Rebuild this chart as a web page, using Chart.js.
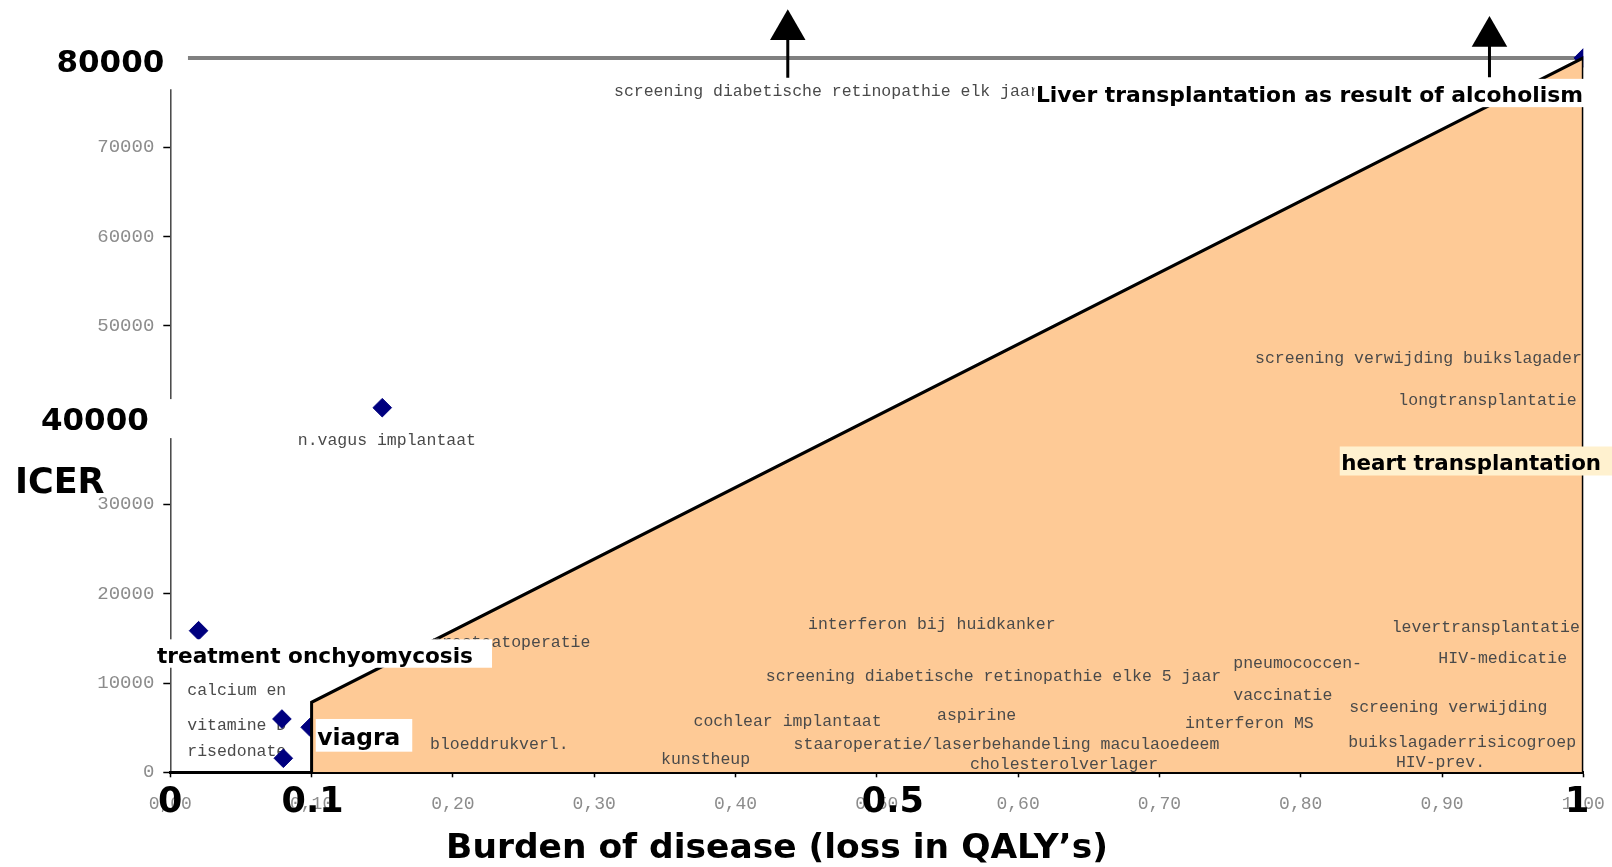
<!DOCTYPE html>
<html>
<head>
<meta charset="utf-8">
<title>ICER x Burden of disease</title>
<script src="https://cdn.jsdelivr.net/npm/chart.js@4.4.1/dist/chart.umd.min.js"></script>
<style>
    html, body { margin: 0; padding: 0; background: #fff; }
    #caixa { width: 1612px; height: 867px; }
</style>
</head>
<body>
<div id="caixa"><canvas id="graf"></canvas></div>
<script>

// tratamentos com losango visivel
const pontosX = [0.020, 0.079, 0.080, 0.150]
const pontosY = [15860, 5970, 1570, 40830]

// tratamentos cujo losango fica atras da area laranja
const pontosAtrasX = [0.099, 1.000]
const pontosAtrasY = [5040, 80000]

// area laranja (limite de aceitacao)
const limiteX = [0.1, 0.1, 1.0, 1.0]
const limiteY = [0, 7840, 80000, 0]

// linha cinza de 80000
const tetoX = [0.0125, 1.0]
const tetoY = [80000, 80000]

// setas para cima (fora da escala)
const setasX = [0.437, 0.9336]
const setasBase = [77780, 77830]
const setasPonta = [83150, 82400]

// eixos
const xTicks = [0, 0.1, 0.2, 0.3, 0.4, 0.5, 0.6, 0.7, 0.8, 0.9, 1.0]
const xTickLabels = ['0,00', '0,10', '0,20', '0,30', '0,40', '0,50', '0,60', '0,70', '0,80', '0,90', '1,00']
const yTicks = [0, 10000, 20000, 30000, 40000, 50000, 60000, 70000]
const yTopo = 76480

// marcas grandes sobre os eixos
const grandesX = [0, 0.1, 0.5, 1]
const grandesXTexto = ['0', '0.1', '0.5', '1']
const grandesY = [80000, 40000]
const grandesYTexto = ['80000', '40000']

// nomes dos tratamentos
const nomes = [
    'screening diabetische retinopathie elk jaar',
    'screening verwijding buikslagader',
    'longtransplantatie',
    'n.vagus implantaat',
    'calcium en',
    'vitamine D',
    'risedonate',
    'prostaatoperatie',
    'bloeddrukverl.',
    'kunstheup',
    'cochlear implantaat',
    'interferon bij huidkanker',
    'screening diabetische retinopathie elke 5 jaar',
    'aspirine',
    'staaroperatie/laserbehandeling maculaoedeem',
    'cholesterolverlager',
    'pneumococcen-',
    'vaccinatie',
    'interferon MS',
    'levertransplantatie',
    'HIV-medicatie',
    'screening verwijding',
    'buikslagaderrisicogroep',
    'HIV-prev.'
]
const nomesX = [0.3140, 0.7677, 0.8691, 0.0902, 0.0120, 0.0120, 0.0120, 0.1852, 0.1838, 0.3473, 0.3703, 0.4513,
                0.4214, 0.5426, 0.4411, 0.5660, 0.7523, 0.7523, 0.7181, 0.8644, 0.8974, 0.8344, 0.8337, 0.8674]
const nomesY = [76180, 46280, 41580, 37100, 9140, 5180, 2310, 14560, 3060, 1380, 5630, 16570,
                10710, 6300, 3140, 820, 12130, 8540, 5410, 16240, 12770, 7230, 3310, 1080]

// destaques em negrito
const negrito = ['Liver transplantation as result of alcoholism', 'heart transplantation', 'treatment onchyomycosis', 'viagra']
const negritoX = [0.6126, 0.8287, -0.0094, 0.104]
const negritoY = [76070, 34860, 13300, 4140]

const tituloX = 'Burden of disease (loss in QALY\u2019s)'
const tituloY = 'ICER'

/**
 * @description: largura, folga e fundo das caixas dos destaques
*/
const estiloNegrito = [
    { largura: 547, folga: 5, altura: 28.3, fundo: '#ffffff' },
    { largura: 260, folga: 12, altura: 29, fundo: '#fff1cf' },
    { largura: 316, folga: 19, altura: 28.4, fundo: '#ffffff' },
    { largura: 83, folga: 12, altura: 32.7, fundo: '#ffffff' }
]

const IDX_LIMITE = 2

/**
 * @description: monta pares x/y
*/
function pares(xs, ys){
    return xs.map((v, i) => ({ x: v, y: ys[i] }))
}

/**
 * @description: acha tamanho de fonte para a largura pedida
*/
function fonteAjustada(ctx, texto, largura, familia){
    ctx.font = 'bold 100px ' + familia
    let w = ctx.measureText(texto).width
    let size = 100 * largura / w
    return { font: 'bold ' + size.toFixed(2) + 'px ' + familia, size: size }
}

const anotacoes = {
    id: 'anotacoes',

    // nomes logo acima da area laranja
    afterDatasetDraw(chart, args){
        if(args.index !== IDX_LIMITE) return
        const { ctx, scales: { x, y } } = chart
        ctx.save()
        ctx.font = '16.5px "Liberation Mono"'
        ctx.fillStyle = '#4a4a4a'
        ctx.textAlign = 'left'
        ctx.textBaseline = 'middle'
        nomes.forEach((n, i) => {
            ctx.fillText(n, x.getPixelForValue(nomesX[i]), y.getPixelForValue(nomesY[i]))
        })
        ctx.restore()
    },

    afterDraw(chart){
        const { ctx, chartArea, scales: { x, y } } = chart
        ctx.save()

        // caixa branca do 40000 cobre o eixo
        let y40 = y.getPixelForValue(40000)
        ctx.fillStyle = '#ffffff'
        ctx.fillRect(40, y40 - 16, chartArea.left + 2.5 - 40, 39)

        // destaques em negrito
        negrito.forEach((t, i) => {
            let est = estiloNegrito[i]
            let f = fonteAjustada(ctx, t, est.largura, '"DejaVu Sans"')
            let px = x.getPixelForValue(negritoX[i])
            let py = y.getPixelForValue(negritoY[i])
            ctx.fillStyle = est.fundo
            ctx.fillRect(px - 1.5, py - est.altura / 2, est.largura + 1.5 + est.folga, est.altura)
            ctx.font = f.font
            ctx.fillStyle = '#000'
            ctx.textAlign = 'left'
            ctx.textBaseline = 'alphabetic'
            ctx.fillText(t, px, py + 0.42 * f.size)
        })

        // numeros grandes do eixo y
        ctx.font = 'bold 31px "DejaVu Sans"'
        ctx.fillStyle = '#000'
        ctx.textAlign = 'right'
        ctx.textBaseline = 'alphabetic'
        ctx.fillText(grandesYTexto[0], chartArea.left - 6, y.getPixelForValue(grandesY[0]) + 13.8)
        ctx.fillText(grandesYTexto[1], chartArea.left - 21.5, y.getPixelForValue(grandesY[1]) + 14.9)

        ctx.font = 'bold 35px "DejaVu Sans"'
        ctx.textAlign = 'left'
        ctx.fillText(tituloY, 15, y.getPixelForValue(31240))

        // numeros grandes do eixo x
        const deslocX = [0, 1, 16, -6]
        ctx.textAlign = 'center'
        grandesX.forEach((v, i) => {
            ctx.fillText(grandesXTexto[i], x.getPixelForValue(v) + deslocX[i], chartArea.bottom + 40)
        })

        // titulo do eixo x
        let f = fonteAjustada(ctx, tituloX, 662, '"DejaVu Sans"')
        ctx.font = f.font
        ctx.textAlign = 'center'
        ctx.fillText(tituloX, x.getPixelForValue(0.4294), chartArea.bottom + 86)

        ctx.restore()
    }
}

function gerarGrafico(){
    const setas = setasX.map((v, i) => ({
        type: 'line',
        data: [{ x: v, y: setasBase[i] }, { x: v, y: setasPonta[i] }],
        borderColor: '#000',
        borderWidth: 3,
        pointRadius: 0,
        order: 0
    }))

    new Chart(document.getElementById('graf').getContext('2d'), {
        type: 'scatter',
        data: {
            datasets: [
                {
                    // losangos visiveis
                    data: pares(pontosX, pontosY),
                    pointStyle: 'rectRot',
                    pointRadius: 9.3,
                    backgroundColor: '#00007f',
                    borderColor: '#00007f',
                    borderWidth: 1,
                    order: 0
                },
                {
                    // losangos atras da area
                    data: pares(pontosAtrasX, pontosAtrasY),
                    pointStyle: 'rectRot',
                    pointRadius: 9.3,
                    backgroundColor: '#00007f',
                    borderColor: '#00007f',
                    borderWidth: 1,
                    order: 3
                },
                {
                    // area laranja
                    type: 'line',
                    data: pares(limiteX, limiteY),
                    borderColor: '#000',
                    borderWidth: 3,
                    backgroundColor: '#feca96',
                    fill: 'origin',
                    tension: 0,
                    pointRadius: 0,
                    order: 2
                },
                {
                    // linha cinza 80000
                    type: 'line',
                    data: pares(tetoX, tetoY),
                    borderColor: '#808080',
                    borderWidth: 4,
                    pointRadius: 0,
                    order: 4
                },
                {
                    // eixo y, so ate o topo da escala original
                    type: 'line',
                    data: [{ x: 0, y: 0 }, { x: 0, y: yTopo }],
                    borderColor: '#000',
                    borderWidth: 2.2,
                    pointRadius: 0,
                    order: 1
                },
                {
                    // pontas das setas
                    data: setasX.map((v, i) => ({ x: v, y: setasPonta[i] })),
                    pointStyle: 'triangle',
                    pointRadius: 20.5,
                    backgroundColor: '#000',
                    borderWidth: 0,
                    order: 0
                }
            ].concat(setas)
        },
        options: {
            responsive: true,
            maintainAspectRatio: false,
            animation: false,
            events: [],
            layout: { autoPadding: false, padding: { left: 0, right: 28.7, top: 0, bottom: 0 } },
            plugins: {
                legend: { display: false },
                tooltip: { enabled: false }
            },
            scales: {
                x: {
                    type: 'linear',
                    min: 0,
                    max: 1,
                    z: 1,
                    afterBuildTicks: s => { s.ticks = xTicks.map(v => ({ value: v })) },
                    afterFit: s => {
                        s.height = 94.7
                        s.paddingLeft = 0
                        s.paddingRight = 0
                    },
                    ticks: {
                        callback: (v, i) => xTickLabels[i],
                        font: { family: '"Liberation Mono"', size: 18 },
                        color: '#8c8c8c',
                        padding: 16,
                        maxRotation: 0,
                        autoSkip: false
                    },
                    grid: { drawOnChartArea: false, drawTicks: true, tickLength: 5, tickColor: '#000', tickWidth: 1.5 },
                    border: { display: true, color: '#000', width: 3 }
                },
                y: {
                    type: 'linear',
                    min: 0,
                    max: 86484,
                    afterBuildTicks: s => { s.ticks = yTicks.map(v => ({ value: v })) },
                    afterFit: s => {
                        s.width = 170.3
                        s.paddingTop = 0
                        s.paddingBottom = 0
                    },
                    ticks: {
                        callback: v => String(v),
                        font: { family: '"Liberation Mono"', size: 19 },
                        color: '#8c8c8c',
                        padding: 9
                    },
                    grid: { drawOnChartArea: false, drawTicks: true, tickLength: 7, tickColor: '#000', tickWidth: 1.5 },
                    border: { display: false }
                }
            }
        },
        plugins: [anotacoes]
    })
}

gerarGrafico()
</script>
</body>
</html>
